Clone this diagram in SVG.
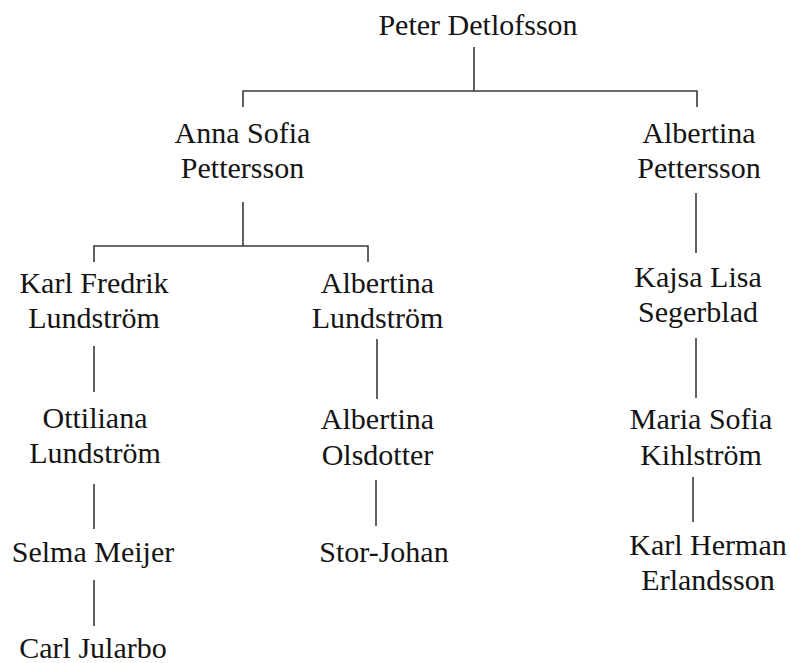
<svg xmlns="http://www.w3.org/2000/svg" width="790" height="663" viewBox="0 0 790 663">
<style>
text{font-family:"Liberation Serif","Times New Roman",serif;font-size:30px;fill:#141414;text-anchor:middle}
.c{stroke:#3a3a3a;stroke-width:1.6;fill:none}
</style>
<rect width="790" height="663" fill="#fff"/>
<g id="connectors" class="c">
<path d="M474 47V91M243 107V91H697V107"/>
<path d="M243 202V246M94 262V246H368V262"/>
<path d="M696 193V253"/>
<path d="M94 346V392"/>
<path d="M377 339V399"/>
<path d="M696 338V398"/>
<path d="M94 484V529"/>
<path d="M376 480V526"/>
<path d="M693 477V522"/>
<path d="M94 580V626"/>
</g>
<g id="peter"><text x="478" y="35">Peter Detlofsson</text></g>
<g id="anna"><text x="242.5" y="143">Anna Sofia</text><text x="242.5" y="178">Pettersson</text></g>
<g id="albertina-p"><text x="699" y="143">Albertina</text><text x="699" y="178">Pettersson</text></g>
<g id="karl-fredrik"><text x="94" y="293">Karl Fredrik</text><text x="94" y="328">Lundström</text></g>
<g id="albertina-l"><text x="377.5" y="293">Albertina</text><text x="377.5" y="328">Lundström</text></g>
<g id="kajsa"><text x="698" y="287">Kajsa Lisa</text><text x="698" y="322">Segerblad</text></g>
<g id="ottiliana"><text x="95" y="428">Ottiliana</text><text x="95" y="463">Lundström</text></g>
<g id="albertina-o"><text x="377.5" y="429">Albertina</text><text x="377.5" y="465">Olsdotter</text></g>
<g id="maria"><text x="701" y="429">Maria Sofia</text><text x="701" y="465">Kihlström</text></g>
<g id="selma"><text x="93" y="562">Selma Meijer</text></g>
<g id="stor-johan"><text x="384" y="562">Stor-Johan</text></g>
<g id="karl-herman"><text x="708" y="555">Karl Herman</text><text x="708" y="590">Erlandsson</text></g>
<g id="carl"><text x="93" y="658">Carl Jularbo</text></g>
</svg>
